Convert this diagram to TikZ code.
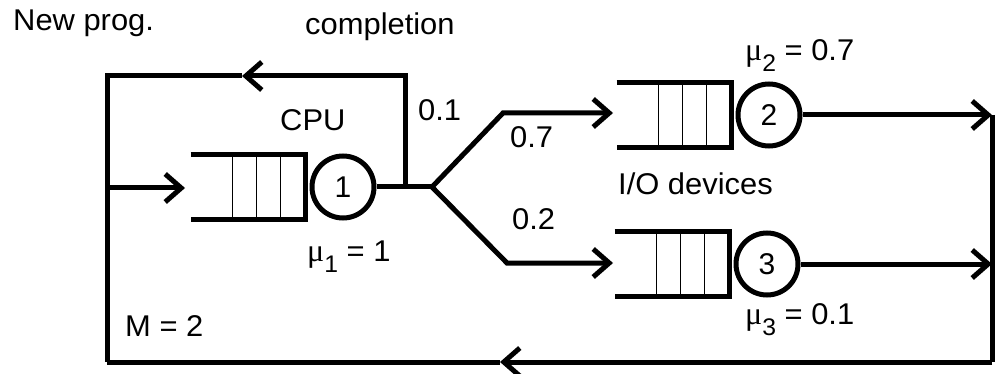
\documentclass[tikz,border=0pt]{standalone}
\usepackage{fontspec}
\setmainfont{Liberation Sans}[FakeStretch=1.03]
\newfontfamily\plainf{Liberation Sans}
\newfontfamily\greekf{Liberation Serif}
\usetikzlibrary{arrows.meta}
\newcommand\mysub[1]{\raisebox{-11pt}{\fontsize{24}{24}\selectfont #1}}
\newcommand\mymu{{\greekf\fontsize{32}{32}\selectfont μ}}
\begin{document}
\begin{tikzpicture}[x=1pt,y=-1pt,
  wire/.style={line width=5pt},
  arr/.style={wire, -{Straight Barb[length=16pt,width=28pt,line width=5pt]}},
  qline/.style={line width=5pt},
  divider/.style={line width=1.6pt},
  server/.style={circle, draw, line width=5pt, minimum size=62pt, inner sep=0pt,
    font=\plainf\fontsize{30}{30}\selectfont},
  lbl/.style={anchor=base west, inner sep=0pt, font=\fontsize{30}{30}\selectfont},
  queue/.pic={
    \draw[qline] (-115,-32.5) -- (0,-32.5) -- (0,32.5) -- (-115,32.5);
    \foreach \d in {73,49,25} \draw[divider] (-\d,-32.5) -- (-\d,32.5);
  }]
\useasboundingbox (0,0) rectangle (1003,374);

% servers
\node[server] (c1) at (343,187) {1};
\node[server] (c2) at (769,115) {2};
\node[server] (c3) at (767,264) {3};

% queues
\pic at ([xshift=-4pt]c1.west) {queue};
\pic at ([xshift=-4pt]c2.west) {queue};
\pic at ([xshift=-4pt]c3.west) {queue};

% coordinates
\coordinate (j) at (432,187);
\coordinate (cp) at (405,187);
\coordinate (tm) at (242,76);
\coordinate (tl) at (107,76);
\coordinate (bl) at (107,362);
\coordinate (lin) at (107,188);
\coordinate (q1in) at (185,188);
\coordinate (b1) at (503,113);
\coordinate (q2in) at (613,113);
\coordinate (b2) at (507,263);
\coordinate (q3in) at (613,263);
\coordinate (r2) at (992,115);
\coordinate (r3) at (992,264);
\coordinate (br) at (992,362);
\coordinate (bm) at (500,362);

% connectors
\draw[wire] (c1.east) -- (j);
\draw[arr] (cp) |- (tm);
\draw[wire] (tm) -- (tl) -- (bl);
\draw[arr] (lin) -- (q1in);
\draw[arr] (j) -- (b1) -- (q2in);
\draw[arr] (j) -- (b2) -- (q3in);
\draw[arr] (c2.east) -- (r2);
\draw[arr] (c3.east) -- (r3);
\draw[wire] (r2) -- (br);
\draw[arr] (br) -- (bm);
\draw[wire] (bm) -- (bl);

% labels
\node[lbl] (tnew) at (13,31) {New prog.};
\node[lbl] (tcomp) at (305,35) {completion};
\node[lbl] (tcpu) at (280,131) {CPU};
\node[lbl] (tp1) at (418,121) {0.1};
\node[lbl] (tp7) at (510,148) {0.7};
\node[lbl] (tp2) at (512,229) {0.2};
\node[lbl] (tio) at (618,194) {I/O devices};
\node[lbl] (tm2) at (125,336) {M = 2};
\node[lbl] (mu1) at (307,261) {\mymu\mysub{1} = 1};
\node[lbl] (mu2) at (745,61) {\mymu\mysub{2} = 0.7};
\node[lbl] (mu3) at (745,324) {\mymu\mysub{3} = 0.1};
\end{tikzpicture}
\end{document}
